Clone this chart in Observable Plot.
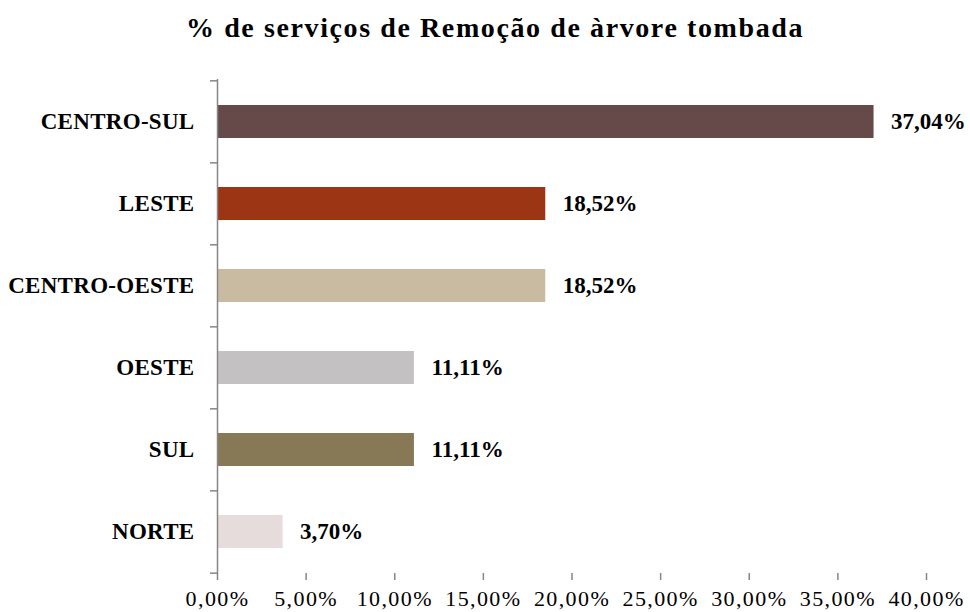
<!DOCTYPE html>
<html>
<head>
<meta charset="utf-8">
<script src="https://cdn.jsdelivr.net/npm/d3@7"></script>
<script src="https://cdn.jsdelivr.net/npm/@observablehq/plot@0.6"></script>
<style>
  body { margin: 0; background: #fff; }
  #title { height: 55px; line-height: 56px; text-align: center; font-family: "Liberation Serif", serif; font-weight: bold; font-size: 28px; letter-spacing: 1.6px; color: #000; padding-left: 20px; box-sizing: border-box; width: 970px; }
  g[aria-label="x-axis tick label"] text { letter-spacing: 1.4px; }
  g[aria-label="y-axis tick label"] text { letter-spacing: 0.3px; }
</style>
</head>
<body>
<div id="title">% de serviços de Remoção de àrvore tombada</div>
<div id="chart"></div>
<script>
const categories = ["CENTRO-SUL", "LESTE", "CENTRO-OESTE", "OESTE", "SUL", "NORTE"];
const values = [37.04, 18.52, 18.52, 11.11, 11.11, 3.70];
const colors = ["#664949", "#9C3513", "#C8BBA2", "#C3C1C2", "#877956", "#E6DCDC"];
const xTicks = [0, 5, 10, 15, 20, 25, 30, 35, 40];

const data = categories.map((c, i) => ({category: c, value: values[i]}));
const fmt = d => d.toFixed(2).replace(".", ",") + "%";

const H = 557, mT = 24, mB = 39;
const step = (H - mT - mB) / categories.length;
const axisColor = "#868686";

const chart = Plot.plot({
  width: 970,
  height: H,
  marginTop: mT,
  marginBottom: mB,
  marginLeft: 217,
  marginRight: 44,
  style: {fontFamily: "Liberation Serif, serif", color: "#000", background: "#fff", overflow: "visible"},
  x: {domain: [0, 40], ticks: xTicks},
  y: {domain: categories, paddingInner: 0.6, paddingOuter: 0.3},
  color: {domain: categories, range: colors},
  marks: [
    Plot.barX(data, {x: "value", y: "category", fill: "category"}),
    Plot.text(data, {x: "value", y: "category", text: d => fmt(d.value), textAnchor: "start", dx: 17, fontWeight: "bold", fontSize: 23, fill: "#000"}),
    Plot.axisX({ticks: xTicks, tickFormat: fmt, tickSize: 7, tickPadding: 10, fontSize: 22, stroke: axisColor, strokeWidth: 1.5, line: true, label: null, fill: "#000"}),
    Plot.axisY({tickSize: 0, tickPadding: 23, fontSize: 23, fontWeight: "bold", label: null, fill: "#000"}),
    Plot.axisY({tickSize: 7, tickFormat: () => "", dy: -step / 2, stroke: axisColor, strokeWidth: 1.5, label: null}),
    Plot.axisY({ticks: [categories[categories.length - 1]], tickSize: 7, tickFormat: () => "", dy: step / 2, stroke: axisColor, strokeWidth: 1.5, label: null}),
    Plot.ruleX([0], {stroke: axisColor, strokeWidth: 1.5})
  ]
});
document.getElementById("chart").appendChild(chart);
</script>
</body>
</html>
